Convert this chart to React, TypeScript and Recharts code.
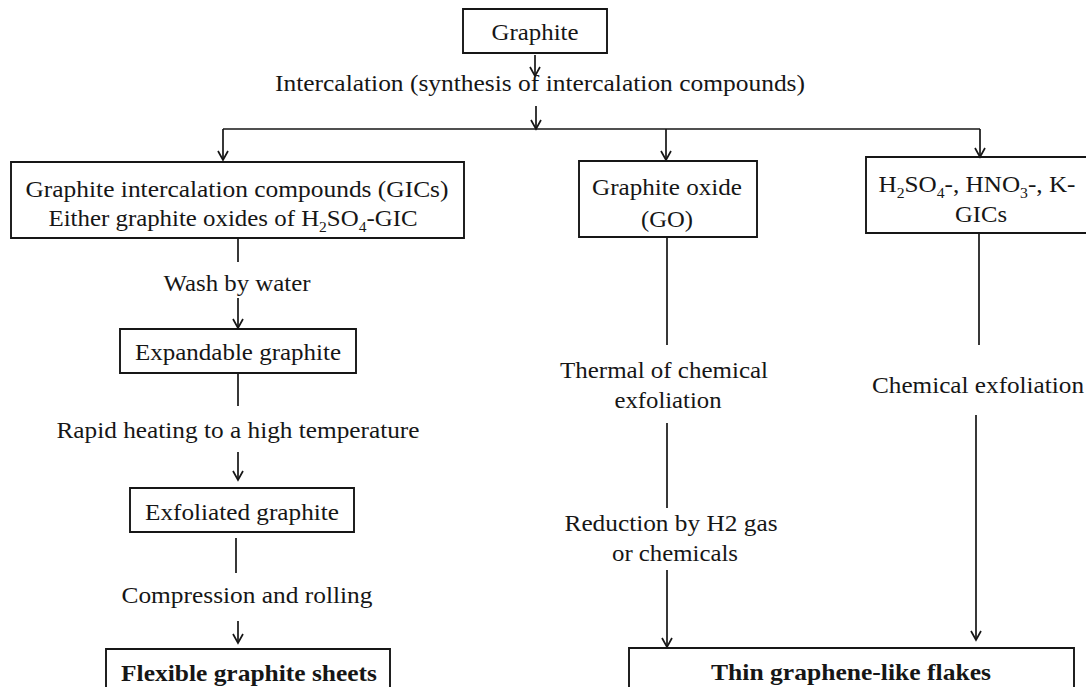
import React from 'react';
import { ComposedChart, XAxis, YAxis, Scatter, ReferenceArea, ReferenceLine } from 'recharts';

// Layout space of the flowchart (data units)
const W = 1086;
const H = 687;

// Process boxes: [x1, x2, y1, y2] in layout units
const boxNames = ['Graphite', 'GICs', 'GO', 'AcidGICs', 'Expandable', 'Exfoliated', 'Flexible', 'Thin'];
const boxX1 = [463, 11, 579, 866, 120, 130, 106, 629];
const boxX2 = [607, 464, 757, 1095, 356, 354, 390, 1074];
const boxY1 = [9, 162, 161, 157, 329, 488, 649, 648];
const boxY2 = [53, 238, 237, 233, 373, 532, 700, 700];

// Text labels (use _n for subscript digits)
const labelText = [
  'Graphite',
  'Intercalation (synthesis of intercalation compounds)',
  'Graphite intercalation compounds (GICs)',
  'Either graphite oxides of H_2SO_4-GIC',
  'Graphite oxide',
  '(GO)',
  'H_2SO_4-, HNO_3-, K-',
  'GICs',
  'Wash by water',
  'Expandable graphite',
  'Rapid heating to a high temperature',
  'Exfoliated graphite',
  'Compression and rolling',
  'Flexible graphite sheets',
  'Thermal of chemical',
  'exfoliation',
  'Chemical exfoliation',
  'Reduction by H2 gas',
  'or chemicals',
  'Thin graphene-like flakes',
];
const labelX = [535, 540, 237, 233, 667, 667, 977, 981, 237, 238, 238, 242, 247, 249, 664, 668, 978, 671, 675, 851];
const labelY = [32, 83, 189, 218, 187, 219, 184, 214, 283, 352, 430, 512, 595, 673, 370, 400, 385, 523, 553, 672];
const labelW = [87, 530, 423, 369, 150, 52, 197, 52, 147, 206, 363, 194, 251, 256, 208, 107, 212, 213, 126, 280];
const labelBold = [false, false, false, false, false, false, false, false, false, false, false, false, false, true, false, false, false, false, false, true];

// Connector lines without heads: [x1, y1, x2, y2]
const plainLines = [
  [223, 129, 980, 129],
  [238, 238, 238, 262],
  [238, 373, 238, 406],
  [236, 538, 236, 573],
  [667, 237, 667, 345],
  [667, 423, 667, 508],
  [979, 233, 979, 345],
];

// Arrows: [x, yStart, yTip]
const arrows = [
  [535, 55, 76],
  [536, 106, 129],
  [223, 129, 160],
  [666, 129, 160],
  [980, 129, 157],
  [238, 298, 328],
  [238, 452, 480],
  [238, 621, 643],
  [667, 570, 647],
  [976, 415, 640],
];

const INK = '#161616';
const FONT = 'Liberation Serif';

const labelData = labelText.map((t, i) => ({
  x: labelX[i],
  y: labelY[i],
  label: t,
  w: labelW[i],
  bold: labelBold[i],
}));

const tipData = arrows.map((a) => ({ x: a[0], y: a[2] }));

function renderParts(s: string) {
  const parts = s.split(/_(\d)/);
  const out: any[] = [];
  parts.forEach((p, i) => {
    if (i % 2 === 1) {
      out.push(
        <tspan key={i} style={{ fontSize: 15 }} dy={6}>
          {p}
        </tspan>
      );
    } else if (p.length) {
      out.push(
        <tspan key={i} dy={i === 0 ? 0 : -6}>
          {p}
        </tspan>
      );
    }
  });
  return out;
}

const TextShape = (props: any) => {
  const { cx, cy, payload } = props;
  if (cx == null || cy == null) return null;
  return (
    <text
      x={cx}
      y={cy + 8}
      textAnchor="middle"
      style={{ fontFamily: FONT, fontSize: 24, fontWeight: payload.bold ? 700 : 400 }}
      fill={INK}
      textLength={payload.w}
      lengthAdjust="spacingAndGlyphs"
    >
      {renderParts(payload.label)}
    </text>
  );
};

const ArrowHead = (props: any) => {
  const { cx, cy } = props;
  if (cx == null || cy == null) return null;
  return (
    <path
      d={`M${cx - 5},${cy - 9} L${cx},${cy} L${cx + 5},${cy - 9}`}
      fill="none"
      stroke={INK}
      strokeWidth={1.7}
    />
  );
};

export default function App() {
  return (
    <div style={{ position: 'absolute', left: 0, top: 0, width: W, height: H, background: '#fff' }}>
      <ComposedChart width={W} height={H} margin={{ top: 0, right: 0, bottom: 0, left: 0 }}>
        <XAxis type="number" dataKey="x" domain={[0, W]} hide allowDataOverflow />
        <YAxis type="number" dataKey="y" domain={[0, H]} reversed hide allowDataOverflow />
        {boxNames.map((n, i) => (
          <ReferenceArea
            key={n}
            x1={boxX1[i]}
            x2={boxX2[i]}
            y1={boxY1[i]}
            y2={boxY2[i]}
            fill="#fff"
            fillOpacity={0}
            stroke={INK}
            strokeWidth={1.9}
            ifOverflow="hidden"
          />
        ))}
        {plainLines.map((l, i) => (
          <ReferenceLine
            key={'l' + i}
            segment={[
              { x: l[0], y: l[1] },
              { x: l[2], y: l[3] },
            ]}
            stroke={INK}
            strokeWidth={1.7}
            ifOverflow="visible"
          />
        ))}
        {arrows.map((a, i) => (
          <ReferenceLine
            key={'a' + i}
            segment={[
              { x: a[0], y: a[1] },
              { x: a[0], y: a[2] },
            ]}
            stroke={INK}
            strokeWidth={1.7}
            ifOverflow="visible"
          />
        ))}
        <Scatter data={tipData} shape={(p: any) => <ArrowHead {...p} />} isAnimationActive={false} />
        <Scatter data={labelData} shape={(p: any) => <TextShape {...p} />} isAnimationActive={false} />
      </ComposedChart>
    </div>
  );
}
